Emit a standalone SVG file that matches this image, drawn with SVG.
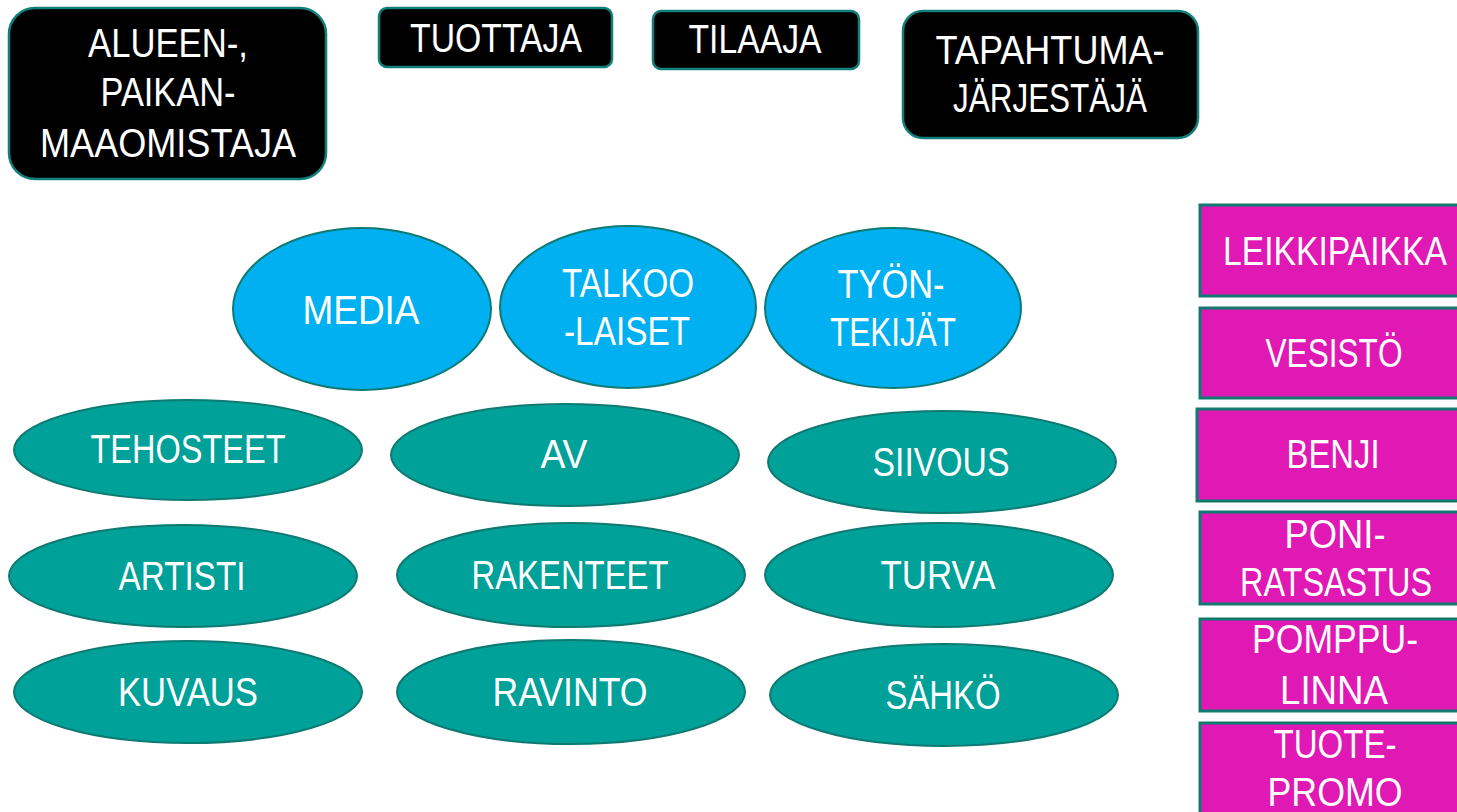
<svg xmlns="http://www.w3.org/2000/svg" width="1457" height="812" viewBox="0 0 1457 812">
<style>
text{font-family:"Liberation Sans",Arial,sans-serif;font-size:40px;fill:#ffffff;text-anchor:middle}
.blk{fill:#000000;stroke:#11807a;stroke-width:2.5}
.blue{fill:#00b0f0;stroke:#0e7a72;stroke-width:2}
.teal{fill:#00a199;stroke:#0e7a72;stroke-width:2}
.mag{fill:#e018b4;stroke:#117a70;stroke-width:3}
</style>
<rect width="1457" height="812" fill="#ffffff"/>
<g id="connectors"></g>
<g id="alueen"><rect class="blk" x="9" y="8" width="317" height="171" rx="26"/><text x="168" y="57" textLength="160" lengthAdjust="spacingAndGlyphs">ALUEEN-,</text><text x="168" y="106" textLength="135" lengthAdjust="spacingAndGlyphs">PAIKAN-</text><text x="168" y="157" textLength="256" lengthAdjust="spacingAndGlyphs">MAAOMISTAJA</text></g>
<g id="tuottaja"><rect class="blk" x="379" y="8" width="233" height="59" rx="8"/><text x="496" y="52" textLength="172" lengthAdjust="spacingAndGlyphs">TUOTTAJA</text></g>
<g id="tilaaja"><rect class="blk" x="653" y="11" width="206" height="58" rx="8"/><text x="755" y="53" textLength="133" lengthAdjust="spacingAndGlyphs">TILAAJA</text></g>
<g id="tapahtuma"><rect class="blk" x="903" y="11" width="295" height="127" rx="20"/><text x="1050" y="64" textLength="229" lengthAdjust="spacingAndGlyphs">TAPAHTUMA-</text><text x="1050" y="112" textLength="194" lengthAdjust="spacingAndGlyphs">JÄRJESTÄJÄ</text></g>
<g id="media"><ellipse class="blue" cx="362" cy="309" rx="129" ry="81"/><text x="361" y="324" textLength="117" lengthAdjust="spacingAndGlyphs">MEDIA</text></g>
<g id="talkoo"><ellipse class="blue" cx="628" cy="307" rx="128" ry="81"/><text x="628" y="297" textLength="132" lengthAdjust="spacingAndGlyphs">TALKOO</text><text x="627" y="345" textLength="126" lengthAdjust="spacingAndGlyphs">-LAISET</text></g>
<g id="tyon"><ellipse class="blue" cx="893" cy="308" rx="128" ry="80"/><text x="891" y="298" textLength="107" lengthAdjust="spacingAndGlyphs">TYÖN-</text><text x="893" y="346" textLength="126" lengthAdjust="spacingAndGlyphs">TEKIJÄT</text></g>
<g id="tehosteet"><ellipse class="teal" cx="188" cy="450" rx="174" ry="50"/><text x="188" y="463" textLength="195" lengthAdjust="spacingAndGlyphs">TEHOSTEET</text></g>
<g id="av"><ellipse class="teal" cx="565" cy="455" rx="174" ry="51"/><text x="564" y="468" textLength="47" lengthAdjust="spacingAndGlyphs">AV</text></g>
<g id="siivous"><ellipse class="teal" cx="942" cy="462" rx="174" ry="51"/><text x="941" y="476" textLength="137" lengthAdjust="spacingAndGlyphs">SIIVOUS</text></g>
<g id="artisti"><ellipse class="teal" cx="183" cy="576" rx="174" ry="51"/><text x="182" y="590" textLength="127" lengthAdjust="spacingAndGlyphs">ARTISTI</text></g>
<g id="rakenteet"><ellipse class="teal" cx="571" cy="575" rx="174" ry="52"/><text x="570" y="589" textLength="197" lengthAdjust="spacingAndGlyphs">RAKENTEET</text></g>
<g id="turva"><ellipse class="teal" cx="939" cy="575" rx="174" ry="52"/><text x="938" y="589" textLength="115" lengthAdjust="spacingAndGlyphs">TURVA</text></g>
<g id="kuvaus"><ellipse class="teal" cx="188" cy="692" rx="174" ry="51"/><text x="188" y="706" textLength="140" lengthAdjust="spacingAndGlyphs">KUVAUS</text></g>
<g id="ravinto"><ellipse class="teal" cx="571" cy="692" rx="174" ry="52"/><text x="570" y="706" textLength="155" lengthAdjust="spacingAndGlyphs">RAVINTO</text></g>
<g id="sahko"><ellipse class="teal" cx="944" cy="695" rx="174" ry="51"/><text x="943" y="709" textLength="115" lengthAdjust="spacingAndGlyphs">SÄHKÖ</text></g>
<g id="leikkipaikka"><rect class="mag" x="1200" y="205" width="270" height="91"/><text x="1335" y="265" textLength="224" lengthAdjust="spacingAndGlyphs">LEIKKIPAIKKA</text></g>
<g id="vesisto"><rect class="mag" x="1200" y="308" width="270" height="90"/><text x="1334" y="367" textLength="137" lengthAdjust="spacingAndGlyphs">VESISTÖ</text></g>
<g id="benji"><rect class="mag" x="1197" y="409" width="273" height="92"/><text x="1333" y="468" textLength="93" lengthAdjust="spacingAndGlyphs">BENJI</text></g>
<g id="poni"><rect class="mag" x="1200" y="512" width="270" height="92"/><text x="1335" y="548" textLength="101" lengthAdjust="spacingAndGlyphs">PONI-</text><text x="1336" y="596" textLength="192" lengthAdjust="spacingAndGlyphs">RATSASTUS</text></g>
<g id="pomppu"><rect class="mag" x="1200" y="619" width="270" height="92"/><text x="1335" y="653" textLength="166" lengthAdjust="spacingAndGlyphs">POMPPU-</text><text x="1334" y="704" textLength="108" lengthAdjust="spacingAndGlyphs">LINNA</text></g>
<g id="tuote"><rect class="mag" x="1200" y="723" width="270" height="100"/><text x="1335" y="758" textLength="123" lengthAdjust="spacingAndGlyphs">TUOTE-</text><text x="1335" y="806" textLength="135" lengthAdjust="spacingAndGlyphs">PROMO</text></g>
</svg>
